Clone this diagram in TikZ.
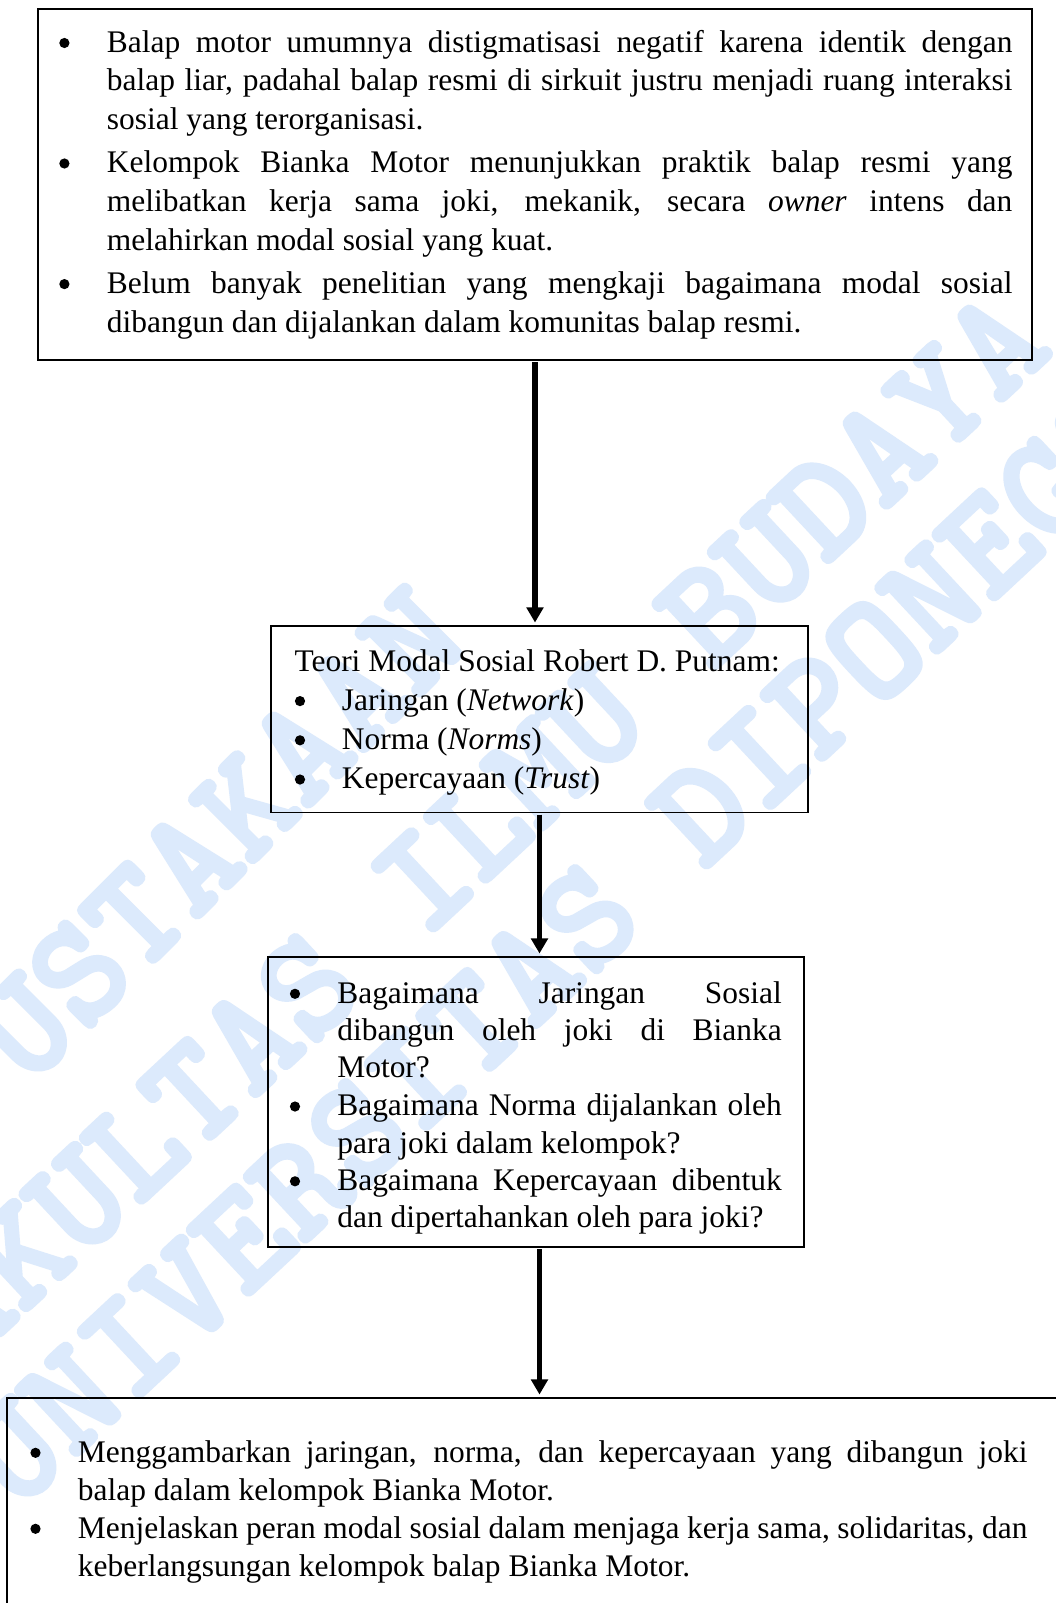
\documentclass[tikz,border=0pt]{standalone}
\usepackage{fontspec}
\setmainfont{Liberation Serif}
\newfontfamily\wmfont{lmmonolt10-bold.otf}[FakeBold=3]
\usetikzlibrary{arrows.meta,fit}
\definecolor{wmblue}{RGB}{220,234,252}
\tikzset{
  box/.style={draw=black, line width=0.65pt, inner sep=0pt},
  arr/.style={line width=2.1pt, -{Triangle[width=6.3pt,length=5.8pt]}, shorten >=1pt, shorten <=0.5pt},
  tline/.style={anchor=base west, inner sep=0pt, font=\fontsize{12}{14.5}\selectfont},
  dot/.style={circle, fill=black, inner sep=0pt, minimum size=3.9pt},
  wmtext/.style={anchor=center, inner sep=0pt, text=wmblue, font=\wmfont\fontsize{57}{57}\selectfont}
}
\begin{document}
\begin{tikzpicture}[x=0.38156pt, y=-0.38156pt]
\useasboundingbox (0,0) rectangle (1056,1603);
\clip (0,0) rectangle (1056,1603);
\fill[white] (0,0) rectangle (1056,1603);

% watermark
\node[wmtext, rotate=45] (wm1) at (107,945) {PERPUSTAKAAN};
\node[wmtext, rotate=43] (wm2) at (451,853) {FAKULTAS ILMU BUDAYA};
\node[wmtext, rotate=43] (wm3) at (616,891) {UNIVERSITAS DIPONEGORO};

% boxes
\coordinate (b1tl) at (38,9);     \coordinate (b1br) at (1032,360);
\coordinate (b2tl) at (271,626);  \coordinate (b2br) at (808,812.5);
\coordinate (b3tl) at (268,957);  \coordinate (b3br) at (804,1247);
\coordinate (b4tl) at (7,1398);   \coordinate (b4br) at (1090,1650);
\node[box, fit=(b1tl)(b1br)] (b1) {};
\node[box, fit=(b2tl)(b2br)] (b2) {};
\node[box, fit=(b3tl)(b3br)] (b3) {};
\node[box, fit=(b4tl)(b4br)] (b4) {};

% connectors
\draw[arr] (b1.south) -- (b1.south |- b2.north);
\draw[arr] (b2.south) -- (b2.south |- b3.north);
\draw[arr] (b3.south -| b2.south) -- (b4.north -| b2.south);

% box 1 text
\node[dot] (b1u1) at (64.4,43) {};
\node[tline] (b1i1) at (106.4,52.2) {\parbox[t]{345.5pt}{\baselineskip=14.8pt
\makebox[\linewidth][s]{Balap motor umumnya distigmatisasi negatif karena identik dengan}\\
\makebox[\linewidth][s]{balap liar, padahal balap resmi di sirkuit justru menjadi ruang interaksi}\\
sosial yang terorganisasi.}};
\node[dot] (b1u2) at (64.4,163.5) {};
\node[tline] (b1i2) at (106.4,172.7) {\parbox[t]{345.5pt}{\baselineskip=14.8pt
\makebox[\linewidth][s]{Kelompok Bianka Motor menunjukkan praktik balap resmi yang}\\
\makebox[\linewidth][s]{melibatkan kerja sama joki, mekanik, secara \textit{owner} intens dan}\\
melahirkan modal sosial yang kuat.}};
\node[dot] (b1u3) at (64.4,284.1) {};
\node[tline] (b1i3) at (106.4,293.3) {\parbox[t]{345.5pt}{\baselineskip=14.8pt
\makebox[\linewidth][s]{Belum banyak penelitian yang mengkaji bagaimana modal sosial}\\
dibangun dan dijalankan dalam komunitas balap resmi.}};

% box 2 text
\node[tline] (b2h) at (294,671) {Teori Modal Sosial Robert D. Putnam:};
\node[dot] (b2u1) at (300,701.1) {};
\node[tline] (b2i1) at (341.4,710.3) {Jaringan (\textit{Network})};
\node[dot] (b2u2) at (300,740.3) {};
\node[tline] (b2i2) at (341.4,749.5) {Norma (\textit{Norms})};
\node[dot] (b2u3) at (300,779.5) {};
\node[tline] (b2i3) at (341.4,788.7) {Kepercayaan (\textit{Trust})};

% box 3 text
\node[dot] (b3u1) at (295,993.8) {};
\node[tline] (b3i1) at (336.8,1003) {\parbox[t]{169.6pt}{\baselineskip=14.23pt
\makebox[\linewidth][s]{Bagaimana Jaringan Sosial}\\
\makebox[\linewidth][s]{dibangun oleh joki di Bianka}\\
Motor?}};
\node[dot] (b3u2) at (295,1106.5) {};
\node[tline] (b3i2) at (336.8,1115.7) {\parbox[t]{169.6pt}{\baselineskip=14.23pt
\makebox[\linewidth][s]{Bagaimana Norma dijalankan oleh}\\
para joki dalam kelompok?}};
\node[dot] (b3u3) at (295,1181.3) {};
\node[tline] (b3i3) at (336.8,1190.5) {\parbox[t]{169.6pt}{\baselineskip=14.23pt
\makebox[\linewidth][s]{Bagaimana Kepercayaan dibentuk}\\
dan dipertahankan oleh para joki?}};

% box 4 text
\node[dot] (b4u1) at (35.5,1452.8) {};
\node[tline] (b4i1) at (77.4,1462) {\parbox[t]{362.3pt}{\baselineskip=14.5pt
\makebox[\linewidth][s]{Menggambarkan jaringan, norma, dan kepercayaan yang dibangun joki}\\
balap dalam kelompok Bianka Motor.}};
\node[dot] (b4u2) at (35.5,1528.8) {};
\node[tline] (b4i2) at (77.4,1538) {\parbox[t]{362.3pt}{\baselineskip=14.5pt
\makebox[\linewidth][s]{Menjelaskan peran modal sosial dalam menjaga kerja sama, solidaritas, dan}\\
keberlangsungan kelompok balap Bianka Motor.}};
\end{tikzpicture}
\end{document}
